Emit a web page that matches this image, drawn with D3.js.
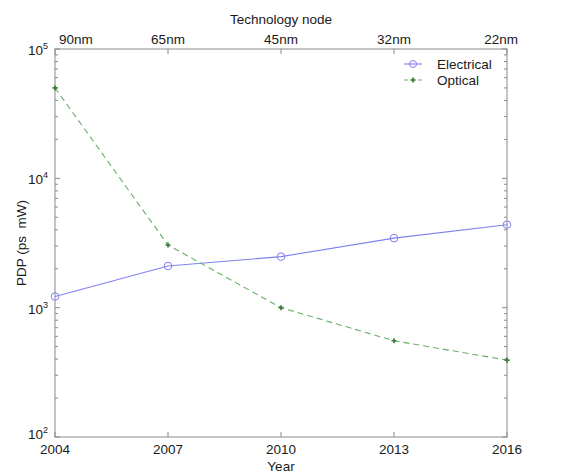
<!DOCTYPE html>
<html>
<head>
<meta charset="utf-8">
<script src="https://cdn.jsdelivr.net/npm/d3@7"></script>
<style>
  body { margin: 0; background: #fff; }
  text { font-family: "Liberation Sans", Arial, Helvetica, sans-serif; fill: #1a1a1a; }
</style>
</head>
<body>
<svg id="chart" width="569" height="475"></svg>
<script>
// Years on the bottom axis and technology nodes on the top axis
const years = [2004, 2007, 2010, 2013, 2016];
const nodes = ["90nm", "65nm", "45nm", "32nm", "22nm"];
// Power-delay product (ps·mW)
const electrical = [1220, 2100, 2480, 3450, 4380];
const optical = [50000, 3050, 1000, 555, 393];
const yTickExps = [2, 3, 4, 5];

const svg = d3.select("#chart");
const m = { left: 55, right: 507, top: 49, bottom: 437 };

const x = d3.scaleLinear().domain([2004, 2016]).range([m.left, m.right]);
const y = d3.scaleLog().domain([100, 100000]).range([m.bottom, m.top]);

const axisColor = "#8a8a8a";

// Frame
svg.append("rect")
  .attr("x", m.left).attr("y", m.top)
  .attr("width", m.right - m.left).attr("height", m.bottom - m.top)
  .attr("fill", "none").attr("stroke", axisColor).attr("stroke-width", 1);

// Inward ticks on x (bottom & top)
const tickG = svg.append("g").attr("stroke", axisColor).attr("stroke-width", 1);
years.forEach(v => {
  tickG.append("line").attr("x1", x(v)).attr("x2", x(v)).attr("y1", m.bottom).attr("y2", m.bottom - 5);
  tickG.append("line").attr("x1", x(v)).attr("x2", x(v)).attr("y1", m.top).attr("y2", m.top + 5);
});

// Major and minor log ticks on both y sides
y.ticks().forEach(v => {
  const major = Math.abs(Math.log10(v) - Math.round(Math.log10(v))) < 1e-9;
  const len = major ? 5 : 3;
  tickG.append("line").attr("x1", m.left).attr("x2", m.left + len).attr("y1", y(v)).attr("y2", y(v));
  tickG.append("line").attr("x1", m.right).attr("x2", m.right - len).attr("y1", y(v)).attr("y2", y(v));
});

// Bottom tick labels
svg.append("g").selectAll("text").data(years).join("text")
  .attr("x", d => x(d)).attr("y", 454)
  .attr("text-anchor", "middle").attr("font-size", 13.5)
  .text(d => d);

// Top tick labels
svg.append("g").selectAll("text").data(nodes).join("text")
  .attr("x", (d, i) => x(years[i]) + (i === 0 ? 4 : 0))
  .attr("y", 44)
  .attr("text-anchor", (d, i) => i === 0 ? "start" : (i === nodes.length - 1 ? "end" : "middle"))
  .attr("dx", (d, i) => i === nodes.length - 1 ? 11 : 0)
  .attr("font-size", 13.5)
  .text(d => d);

// Y tick labels as powers of ten
const yl = svg.append("g");
yTickExps.forEach(e => {
  const t = yl.append("text")
    .attr("x", 48).attr("y", y(Math.pow(10, e)) + (e === 2 ? 2 : 6))
    .attr("text-anchor", "end").attr("font-size", 13.5);
  t.append("tspan").text("10");
  t.append("tspan").attr("font-size", 9).attr("dy", -6).text(e);
});

// Axis titles
svg.append("text").attr("x", 281).attr("y", 24).attr("text-anchor", "middle")
  .attr("font-size", 13.5).text("Technology node");
svg.append("text").attr("x", 281).attr("y", 471).attr("text-anchor", "middle")
  .attr("font-size", 13.5).text("Year");
svg.append("text")
  .attr("transform", `translate(26,${(m.top + m.bottom) / 2}) rotate(-90)`)
  .attr("text-anchor", "middle").attr("font-size", 13.5)
  .text("PDP (ps\u00a0\u00a0mW)");

const elecColor = "#8080f0";
const optColor = "#66b066";

const line = d3.line().x((d, i) => x(years[i])).y(d => y(d));

// Electrical series: solid line with open circles
svg.append("path").datum(electrical)
  .attr("d", line).attr("fill", "none")
  .attr("stroke", elecColor).attr("stroke-width", 1.1);
svg.append("g").selectAll("circle").data(electrical).join("circle")
  .attr("cx", (d, i) => x(years[i])).attr("cy", d => y(d)).attr("r", 3.8)
  .attr("fill", "none").attr("stroke", elecColor).attr("stroke-width", 1);

// Optical series: dashed line with star markers
svg.append("path").datum(optical)
  .attr("d", line).attr("fill", "none")
  .attr("stroke", optColor).attr("stroke-width", 1.1)
  .attr("stroke-dasharray", "6,4");
const star = d3.symbol().type(d3.symbolCross).size(14);
svg.append("g").selectAll("path").data(optical).join("path")
  .attr("transform", (d, i) => `translate(${x(years[i])},${y(d)})`)
  .attr("d", star).attr("fill", "#3a7a3a");

// Legend
const lg = svg.append("g");
lg.append("line").attr("x1", 404).attr("x2", 422).attr("y1", 64).attr("y2", 64)
  .attr("stroke", elecColor).attr("stroke-width", 1.1);
lg.append("circle").attr("cx", 413).attr("cy", 64).attr("r", 3.5)
  .attr("fill", "none").attr("stroke", elecColor);
lg.append("text").attr("x", 437).attr("y", 69).attr("font-size", 13.5).text("Electrical");
lg.append("line").attr("x1", 404).attr("x2", 422).attr("y1", 80).attr("y2", 80)
  .attr("stroke", optColor).attr("stroke-width", 1.1).attr("stroke-dasharray", "4,3");
lg.append("path").attr("transform", "translate(413,80)").attr("d", star).attr("fill", "#3a7a3a");
lg.append("text").attr("x", 437).attr("y", 85).attr("font-size", 13.5).text("Optical");
</script>
</body>
</html>
